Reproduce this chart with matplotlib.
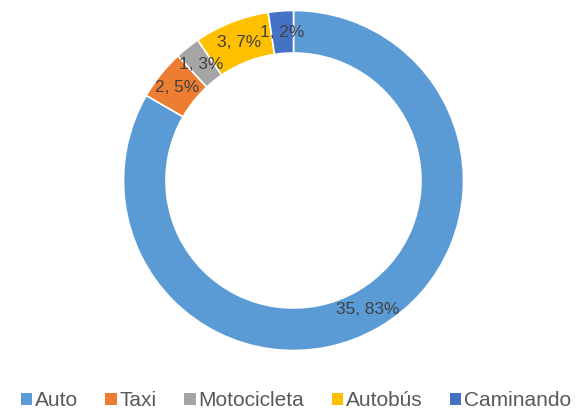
import numpy as np
import matplotlib
matplotlib.use("Agg")
import matplotlib.pyplot as plt

categories = ["Auto", "Taxi", "Motocicleta", "Autobús", "Caminando"]
values = [35, 2, 1, 3, 1]
data_labels = ["35, 83%", "2, 5%", "1, 3%", "3, 7%", "1, 2%"]
colors = ["#5B9BD5", "#ED7D31", "#A5A5A5", "#FFC000", "#4472C4"]

plt.rcParams['font.family'] = ['Liberation Sans', 'DejaVu Sans']

W, H = 588, 417
fig = plt.figure(figsize=(W / 100, H / 100), dpi=100)
cx, cy, R = 293.5, 180.5, 170.0
ax = fig.add_axes([(cx - R) / W, (H - cy - R) / H, 2 * R / W, 2 * R / H])

hole = 0.75
wedges, _ = ax.pie(values, colors=colors, startangle=90, counterclock=False,
                   radius=1.0, center=(0, 0), frame=True,
                   wedgeprops=dict(width=1 - hole, edgecolor='white', linewidth=1.2))
ax.set_xlim(-1, 1)
ax.set_ylim(-1, 1)
ax.set_aspect('equal')
ax.axis('off')

rmid = (1 + hole) / 2
for w, lab in zip(wedges, data_labels):
    ang = np.deg2rad((w.theta1 + w.theta2) / 2)
    ax.text(rmid * np.cos(ang), rmid * np.sin(ang), lab, ha='center', va='center',
            fontsize=12.4, color='#404040')

fs = 15
leg = fig.legend(wedges, categories, loc='center', ncol=5, frameon=False,
                 bbox_to_anchor=(296 / W, (H - 401) / H),
                 bbox_transform=fig.transFigure,
                 fontsize=fs, handlelength=0.55, handleheight=0.55,
                 handletextpad=0.15, columnspacing=1.3, labelcolor='#595959',
                 borderpad=0, borderaxespad=0)
for h in leg.legend_handles:
    h.set_edgecolor('none')

fig.savefig("out.png", dpi=100)
